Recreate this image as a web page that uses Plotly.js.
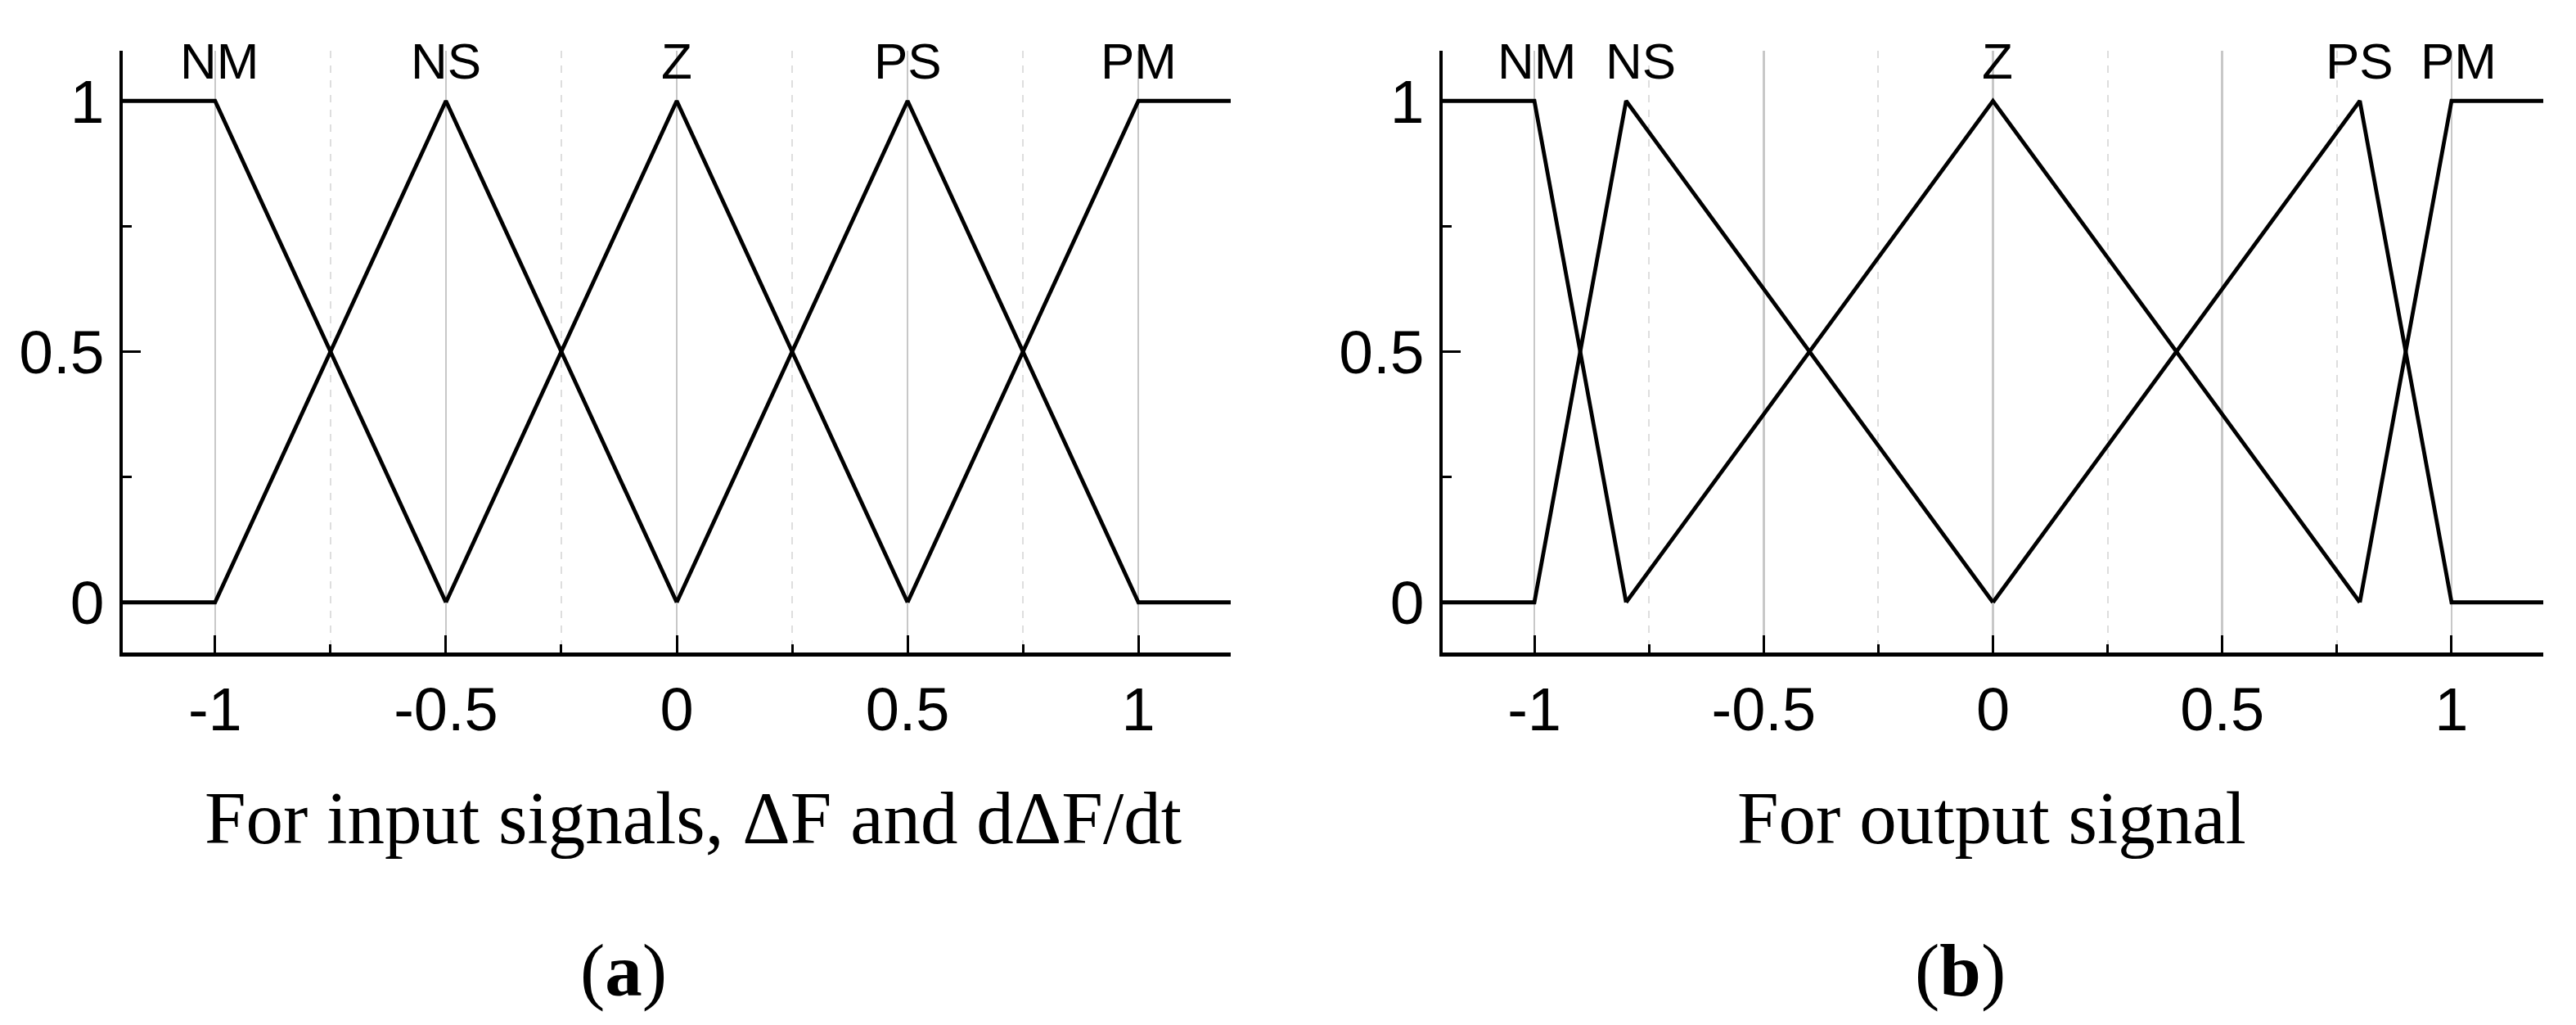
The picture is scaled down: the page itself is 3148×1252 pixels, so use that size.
<!DOCTYPE html>
<html>
<head>
<meta charset="utf-8">
<script src="https://cdn.plot.ly/plotly-3.0.1.min.js"></script>
<style>
  html, body { margin: 0; padding: 0; background: #fff; }
  #chart { width: 3148px; height: 1252px; }
</style>
</head>
<body>
<div id="chart"></div>
<script>
// Membership function labels
const mfNames = ['NM', 'NS', 'Z', 'PS', 'PM'];

// (a) input signals membership functions
const inNMx = [-1.2, -1, -0.5];
const inNMy = [1, 1, 0];
const inNSx = [-1.2, -1, -0.5, 0];
const inNSy = [0, 0, 1, 0];
const inZx = [-0.5, 0, 0.5];
const inZy = [0, 1, 0];
const inPSx = [0, 0.5, 1, 1.2];
const inPSy = [0, 1, 0, 0];
const inPMx = [0.5, 1, 1.2];
const inPMy = [0, 1, 1];
const inLabelX = [-0.99, -0.5, 0, 0.5, 1];

// (b) output signal membership functions
const outNMx = [-1.2, -1, -0.8];
const outNMy = [1, 1, 0];
const outNSx = [-1.2, -1, -0.8, 0];
const outNSy = [0, 0, 1, 0];
const outZx = [-0.8, 0, 0.8];
const outZy = [0, 1, 0];
const outPSx = [0, 0.8, 1, 1.2];
const outPSy = [0, 1, 0, 0];
const outPMx = [0.8, 1, 1.2];
const outPMy = [0, 1, 1];
const outLabelX = [-0.995, -0.768, 0.01, 0.8, 1.016];

// Tick labels
const xTickVals = [-1, -0.5, 0, 0.5, 1];
const xTickText = ['-1', '-0.5', '0', '0.5', '1'];
const xMinorVals = [-0.75, -0.25, 0.25, 0.75];
const yTickVals = [0, 0.5, 1];
const yTickText = ['0', '0.5', '1'];
const yMinorVals = [0.25, 0.75];

// Captions
const captionA = 'For input signals, \u0394F and d\u0394F/dt';
const captionB = 'For output signal';

const W = 3148, H = 1252;
const lineStyle = {color: 'black', width: 4.8};
const sans = 'Liberation Sans, Arial, sans-serif';
const sansNarrow = 'Liberation Sans Narrow, Liberation Sans, Arial, sans-serif';

function trace(x, y, axis) {
    return {
        x: x, y: y, mode: 'lines', line: lineStyle,
        xaxis: 'x' + axis, yaxis: 'y' + axis,
        hoverinfo: 'skip'
    };
}

let data = [
    trace(inNMx, inNMy, ''), trace(inNSx, inNSy, ''), trace(inZx, inZy, ''),
    trace(inPSx, inPSy, ''), trace(inPMx, inPMy, ''),
    trace(outNMx, outNMy, '2'), trace(outNSx, outNSy, '2'), trace(outZx, outZy, '2'),
    trace(outPSx, outPSy, '2'), trace(outPMx, outPMy, '2')
];

function xAxis(domain, anchor) {
    return {
        domain: domain, anchor: anchor,
        range: [-1.2, 1.2],
        tickmode: 'array', tickvals: xTickVals, ticktext: xTickText,
        ticks: 'inside', ticklen: 21, tickwidth: 3, tickcolor: 'black',
        showline: true, linecolor: 'black', linewidth: 4.5,
        showgrid: true, gridcolor: '#c8c8c8', gridwidth: 2.5,
        zeroline: false,
        minor: {
            tickmode: 'array', tickvals: xMinorVals,
            ticks: 'inside', ticklen: 10, tickwidth: 3, tickcolor: 'black',
            showgrid: true, gridcolor: '#dedede', gridwidth: 2, griddash: 'dash'
        },
        tickfont: {family: sans, size: 74, color: 'black'},
        ticklabelstandoff: 2
    };
}

function yAxis(domain, anchor) {
    return {
        domain: domain, anchor: anchor,
        range: [-0.1, 1.1],
        tickmode: 'array', tickvals: yTickVals, ticktext: yTickText,
        ticks: 'inside', ticklen: 22, tickwidth: 3, tickcolor: 'black',
        showline: true, linecolor: 'black', linewidth: 4.5,
        showgrid: false, zeroline: false,
        minor: {
            tickmode: 'array', tickvals: yMinorVals,
            ticks: 'inside', ticklen: 11, tickwidth: 3, tickcolor: 'black',
            showgrid: false
        },
        tickfont: {family: sansNarrow, size: 75, color: 'black'},
        ticklabelstandoff: 3
    };
}

const yDom = [(H - 797) / H, (H - 62) / H];

let annotations = [];
mfNames.forEach((name, i) => {
    annotations.push({
        text: name, x: inLabelX[i], y: 1.08, xref: 'x', yref: 'y',
        showarrow: false, xanchor: 'center', yanchor: 'middle',
        font: {family: sansNarrow, size: 62, color: 'black'}
    });
    annotations.push({
        text: name, x: outLabelX[i], y: 1.08, xref: 'x2', yref: 'y2',
        showarrow: false, xanchor: 'center', yanchor: 'middle',
        font: {family: sansNarrow, size: 62, color: 'black'}
    });
});

const serif = {family: 'Liberation Serif, Times New Roman, serif', size: 91, color: 'black'};
annotations.push(
    {text: captionA, x: 847 / W, y: (H - 999) / H, xref: 'paper', yref: 'paper',
     showarrow: false, xanchor: 'center', yanchor: 'middle', font: serif},
    {text: captionB, x: 2434 / W, y: (H - 999) / H, xref: 'paper', yref: 'paper',
     showarrow: false, xanchor: 'center', yanchor: 'middle', font: serif},
    {text: '(<b>a</b>)', x: 762 / W, y: (H - 1185) / H, xref: 'paper', yref: 'paper',
     showarrow: false, xanchor: 'center', yanchor: 'middle', font: serif},
    {text: '(<b>b</b>)', x: 2395 / W, y: (H - 1185) / H, xref: 'paper', yref: 'paper',
     showarrow: false, xanchor: 'center', yanchor: 'middle', font: serif}
);

let layout = {
    width: W, height: H,
    margin: {l: 0, r: 0, t: 0, b: 0},
    paper_bgcolor: 'white', plot_bgcolor: 'white',
    showlegend: false,
    xaxis: xAxis([150 / W, 1504 / W], 'y'),
    yaxis: yAxis(yDom, 'x'),
    xaxis2: xAxis([1763 / W, 3108 / W], 'y2'),
    yaxis2: yAxis(yDom, 'x2'),
    annotations: annotations
};

Plotly.newPlot('chart', data, layout, {staticPlot: true});
</script>
</body>
</html>
